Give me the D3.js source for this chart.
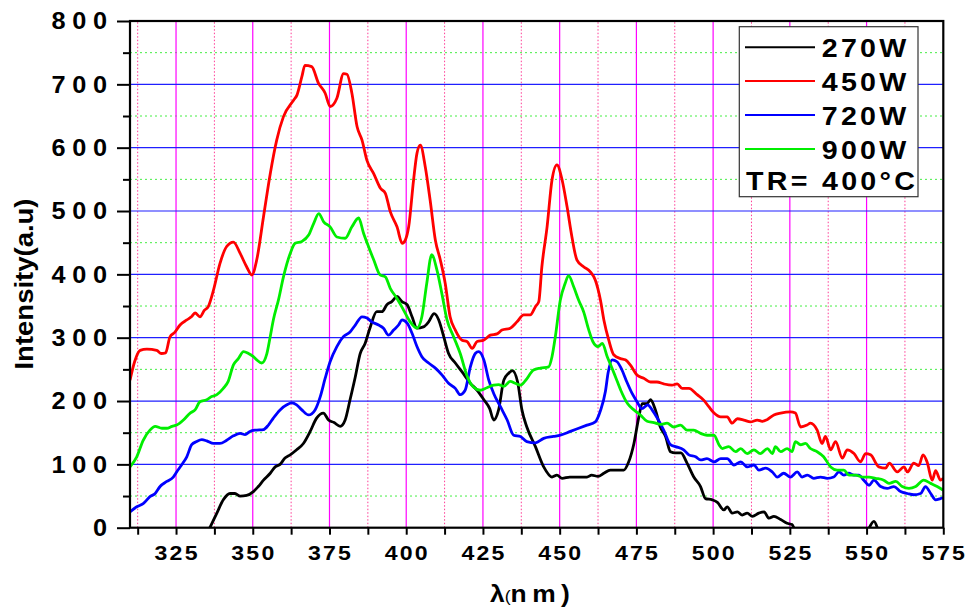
<!DOCTYPE html>
<html>
<head>
<meta charset="utf-8">
<script src="https://cdn.jsdelivr.net/npm/d3@7"></script>
<style>
  html, body { margin: 0; padding: 0; background: #fff; }
  svg { display: block; }
  text { font-family: "Liberation Sans", Arial, sans-serif; font-weight: bold; fill: #000; }
</style>
</head>
<body>
<svg id="chart" width="967" height="611"></svg>
<script>
// Emission spectra, intensity (a.u.) versus wavelength (nm)
const s270 = [[336,0],[338.3,23],[340.4,44],[342.6,54],[344.2,54],[345.9,50],[348,51],[350.2,57],[351.8,65],[353.5,75],[355.7,86],[357.3,96],[358.9,100],[360.5,110],[362.2,115],[364.3,123],[366.5,133],[368.7,152],[370.8,173],[373,181],[374.7,170],[376.5,166],[378.5,160],[380.1,170],[381.7,202],[383.4,238],[385,275],[386.6,291],[388.3,317],[390.4,341],[392.1,341],[393.7,352],[395.3,357],[397,365],[398.6,357],[400.3,352],[401.9,333],[403.5,315],[405.6,317],[407.3,325],[409.1,338],[410.6,328],[412.2,302],[413.8,275],[416,260],[418.2,246],[420.9,228],[423.1,217],[425.3,202],[427.2,188],[428.5,170],[430.1,186],[431.8,233],[433.4,244],[434.6,248],[436.3,230],[437.7,186],[439.3,159],[442.1,128],[444.8,96],[447.5,80],[449.1,83],[450.8,78],[453.3,80],[456.2,80],[458.9,80],[460.4,83],[462.5,81],[464.4,86],[466.5,91],[468.7,91],[470.9,91],[472.5,104],[474.2,133],[475.8,175],[476.9,196],[478.5,196],[479.6,202],[481.2,186],[482.8,159],[484.5,144],[486.1,120],[487.7,118],[489.5,118],[491.5,102],[493.7,80],[495.9,65],[497.5,46],[499.7,44],[501.4,40],[503.5,28],[504.6,33],[506.2,23],[507.9,25],[509.5,20],[511.1,23],[512.8,18],[514.9,23],[516.6,25],[518.2,15],[519.8,18],[522,13],[524.1,7],[525.7,5],[526.3,0],[540,null],[550.9,0],[552.4,10],[553.5,0]];
const s450 = [[310,233],[311.5,262],[313.3,280],[315.5,282],[318.7,280],[320.2,275],[321.6,276],[323,301],[324.5,308],[326.3,320],[328.5,328],[330,333],[331.2,339],[332.8,333],[334.2,343],[335.5,349],[337.2,375],[339.3,417],[341.5,444],[343.7,451],[345.9,433],[348,412],[349.7,399],[351.3,423],[353.5,491],[355.7,559],[357.8,612],[360,649],[363.3,675],[364.4,683],[366,712],[367,730],[369.2,728],[371.4,702],[373.6,686],[375.2,665],[377.4,678],[379.6,717],[380.7,716],[382.3,686],[384,633],[385.6,612],[387.2,580],[389.4,559],[391.6,536],[393.2,528],[394.8,499],[397,475],[398.7,449],[399.7,454],[400.8,475],[402.4,549],[403.5,591],[404.6,604],[406.2,570],[407.8,517],[409.5,454],[411.1,423],[412.7,386],[414.3,333],[416,312],[418.2,296],[419.8,294],[421.5,283],[423.1,294],[425.2,296],[427.4,304],[429.6,306],[431.2,312],[433.9,315],[436.1,325],[438.3,336],[440.4,336],[442.1,349],[443.2,357],[444.2,412],[445.9,475],[447.5,549],[449.1,573],[450.8,549],[452.4,507],[454,459],[455.6,423],[457.8,412],[460,404],[461.6,391],[463.3,359],[464.4,328],[466,296],[467.6,273],[469.8,267],[471.4,265],[473,257],[475.2,241],[477.4,236],[479.6,230],[481.7,230],[483.9,227],[486.6,225],[488.3,227],[489.9,220],[492.1,220],[494.8,210],[497,201],[498.6,191],[500.3,181],[502.5,175],[504.6,175],[506.2,165],[507.9,172],[510,170],[512.2,167],[514.4,170],[516,168],[517.7,171],[519.8,178],[522,181],[525.2,183],[526.8,181],[528.5,159],[530.6,162],[531.7,165],[533.9,154],[535.5,133],[536.6,144],[538.3,123],[539.9,136],[542.1,110],[543.7,123],[545.9,117],[548,104],[549.7,117],[551.3,115],[554,96],[556.2,94],[557.4,102],[560,88],[562.2,96],[563.3,88],[565.4,102],[567,98],[568.4,115],[569.7,104],[571.4,75],[572.5,90],[574.1,75],[575,78]];
const s720 = [[310,25],[312.2,33],[314.3,38],[316.5,49],[318.2,54],[319.8,65],[322,73],[324.1,80],[325.2,88],[326.8,99],[328.5,112],[330.1,131],[331.7,136],[333.4,139],[335,137],[337.2,133],[339.3,133],[341.5,138],[343.7,145],[345.9,149],[347.5,147],[349.1,152],[350.8,154],[353.5,155],[355.1,162],[356.7,173],[358.9,186],[361.1,194],[362.7,197],[364.3,194],[366,186],[368.2,178],[370.3,186],[372,207],[373.6,236],[375.2,262],[377.4,286],[379.6,302],[381.7,309],[383.4,320],[385.6,333],[387.2,331],[388.8,325],[391,320],[392.6,315],[394.2,304],[395.9,312],[397.5,320],[398.6,328],[400.3,323],[401.9,307],[403.5,286],[405.1,270],[407.3,260],[409.5,252],[411.7,241],[413.8,228],[416,220],[417.6,210],[419.2,217],[420.9,254],[422.5,275],[423.6,278],[425.3,265],[426.9,233],[428.5,212],[430.7,191],[432.9,170],[435,146],[437.2,144],[439.3,136],[442.1,134],[444.8,141],[448,144],[450.2,146],[453.5,152],[456.2,157],[458.9,162],[461.6,167],[463.3,185],[464.9,215],[465.8,245],[467.1,265],[468.7,262],[470.3,249],[471.9,230],[473.6,212],[475.2,199],[476.8,188],[478.7,194],[480.1,186],[481.7,174],[483.9,154],[486.1,131],[487.7,128],[490.4,123],[492.1,115],[494.3,112],[495.9,107],[498,109],[500.3,104],[502.5,109],[504.6,109],[506.8,99],[509,104],[511.1,96],[513.3,99],[514.9,91],[517.1,94],[519.3,88],[520.9,80],[523,86],[525.2,80],[527.4,88],[529,80],[530.7,83],[532.8,78],[535,80],[537.2,78],[539.3,80],[541,88],[542.6,83],[544.2,86],[545.9,83],[547.5,83],[549.1,75],[550.8,67],[552.4,75],[554.6,65],[556.7,62],[558.9,65],[561.1,57],[563.3,54],[565.4,52],[567.6,54],[569.2,65],[570.9,54],[572.5,44],[574.1,46],[575,47]];
const s900 = [[310,96],[312.2,112],[314.3,138],[316.5,154],[318.2,160],[320.4,157],[322,157],[323.7,160],[325.2,162],[327.4,170],[329.6,181],[331.2,186],[332.8,199],[335,202],[336.6,207],[338.3,210],[340.4,220],[342,231],[343.7,257],[345.3,267],[347,278],[348.6,275],[350.2,270],[351.3,265],[352.9,260],[354.6,275],[355.7,302],[356.7,328],[358.4,360],[360,396],[362.2,433],[363.8,449],[366,452],[368.2,462],[369.9,481],[371.5,496],[373.1,483],[375.2,475],[377.4,459],[380.1,457],[382.3,475],[384.5,489],[386.1,465],[387.7,444],[389.4,423],[391.5,399],[393.2,396],[394.8,378],[397,362],[399.1,344],[401.3,325],[403.5,315],[405.1,333],[406.7,386],[408.3,431],[410,407],[411.6,370],[413.3,328],[415.4,302],[417.6,275],[419.8,240],[421.9,222],[424.1,217],[426.3,221],[428.5,225],[430.1,226],[431.8,223],[433.9,231],[435.5,228],[437.2,225],[438.8,232],[441.5,249],[443.7,252],[446.4,254],[447.5,270],[448.6,302],[450.2,359],[451.8,386],[452.9,398],[454.6,380],[456.2,359],[457.8,341],[459.5,312],[460.8,294],[462.5,286],[463.9,291],[465.5,270],[466.8,255],[468.2,238],[469.9,217],[472.1,196],[474.2,186],[476.3,178],[478.5,168],[480.7,166],[482.8,163],[485,165],[487.2,159],[489.4,162],[491.5,154],[493.7,154],[495.9,149],[498,146],[500.3,146],[501.9,131],[503,125],[505.1,128],[507.3,120],[509,125],[511.1,117],[513.3,123],[515.4,117],[517.7,125],[519.3,117],[520.3,128],[522,120],[524.1,125],[525.7,120],[526.8,136],[528.5,131],[530.1,133],[531.7,125],[533.9,120],[536,112],[538.3,96],[540.4,91],[542.6,91],[544.3,83],[546.4,83],[548.6,80],[550.8,80],[552.9,78],[555.6,75],[557.3,70],[559.5,73],[561.6,65],[563.8,62],[566,65],[568.6,75],[570.9,70],[573,65],[575,59]];

const seriesNames = ["270W", "450W", "720W", "900W"];
const seriesData = [s270, s450, s720, s900];
const seriesColors = ["#000000", "#ff0000", "#0000ff", "#00ee00"];
const xTicks = [325, 350, 375, 400, 425, 450, 475, 500, 525, 550, 575];
const yTicks = [0, 100, 200, 300, 400, 500, 600, 700, 800];
const legendNote = "TR= 400°C";

const svg = d3.select("#chart");
const x = d3.scaleLinear().domain([310, 575]).range([130, 943.3]);
const y = d3.scaleLinear().domain([0, 800]).range([527.7, 21]);
const [x0, x1] = x.range();
const [y0, y1] = y.range();

// text helper: bold, slightly widened, letter-spaced
function label(parent, px, py, str, opt) {
  const o = Object.assign({ size: 22, sx: 1.1, ls: 0, anchor: "start", rot: 0 }, opt);
  const g = parent.append("g")
    .attr("transform", `translate(${px},${py}) rotate(${o.rot}) scale(${o.sx},1)`);
  let dx = 0;
  if (o.anchor === "end") dx = o.ls;
  if (o.anchor === "middle") dx = o.ls / 2;
  return g.append("text")
    .attr("x", dx)
    .attr("text-anchor", o.anchor)
    .style("font-size", o.size + "px")
    .style("letter-spacing", o.ls + "px")
    .text(str);
}

// grid
const grid = svg.append("g");
const xMinor = d3.range(312.5, 575, 25);
const yMinor = d3.range(50, 800, 100);
grid.selectAll(".gxm").data(xMinor).join("line")
  .attr("x1", d => x(d)).attr("x2", d => x(d)).attr("y1", y0).attr("y2", y1)
  .attr("stroke", "#ff3c96").attr("stroke-width", 1).attr("stroke-dasharray", "1.5,2");
grid.selectAll(".gym").data(yMinor).join("line")
  .attr("x1", x0).attr("x2", x1).attr("y1", d => y(d)).attr("y2", d => y(d))
  .attr("stroke", "#44ee44").attr("stroke-width", 1).attr("stroke-dasharray", "2,3");
grid.selectAll(".gx").data(xTicks.filter(d => d < 575)).join("line")
  .attr("x1", d => x(d)).attr("x2", d => x(d)).attr("y1", y0).attr("y2", y1)
  .attr("stroke", "#ff00ff").attr("stroke-width", 1.2);
grid.selectAll(".gy").data(yTicks.filter(d => d > 0 && d < 800)).join("line")
  .attr("x1", x0).attr("x2", x1).attr("y1", d => y(d)).attr("y2", d => y(d))
  .attr("stroke", "#2020ff").attr("stroke-width", 1.2);

// curves
svg.append("clipPath").attr("id", "plotclip").append("rect")
  .attr("x", x0).attr("y", y1).attr("width", x1 - x0).attr("height", y0 - y1);
const line = d3.line()
  .defined(d => d[1] != null)
  .x(d => x(d[0])).y(d => y(d[1]))
  .curve(d3.curveMonotoneX);
const curves = svg.append("g").attr("clip-path", "url(#plotclip)");
seriesData.forEach((s, i) => {
  curves.append("path").datum(s)
    .attr("d", line)
    .attr("fill", "none")
    .attr("stroke", seriesColors[i])
    .attr("stroke-width", 2.8)
    .attr("stroke-linejoin", "round");
});

// axes
const yAxis = d3.axisLeft(y).tickValues(yTicks).tickSize(13).tickFormat("");
const yAxisMinor = d3.axisLeft(y).tickValues(yMinor).tickSize(7).tickFormat("");
const xAxis = d3.axisBottom(x).tickValues(xTicks).tickSize(7).tickFormat("");
const xAxisMinor = d3.axisBottom(x).tickValues(xMinor).tickSize(7).tickFormat("");
function styleAxis(g) {
  g.select(".domain").remove();
  g.selectAll(".tick line").attr("stroke", "#000").attr("stroke-width", 2);
}
svg.append("g").attr("transform", `translate(${x0},0)`).call(yAxis).call(styleAxis);
svg.append("g").attr("transform", `translate(${x0},0)`).call(yAxisMinor).call(styleAxis);
svg.append("g").attr("transform", `translate(0,${y0})`).call(xAxis).call(styleAxis);
svg.append("g").attr("transform", `translate(0,${y0})`).call(xAxisMinor).call(styleAxis);

// frame
svg.append("rect").attr("x", x0).attr("y", y1).attr("width", x1 - x0).attr("height", y0 - y1)
  .attr("fill", "none").attr("stroke", "#000").attr("stroke-width", 2.2);

// tick labels
const labels = svg.append("g");
yTicks.forEach(v => label(labels, 107, y(v) + 8.3, String(v), { size: 23, sx: 1.1, ls: 6, anchor: "end" }));
xTicks.forEach(v => label(labels, x(v), 560, String(v), { size: 21, sx: 1.1, ls: 2, anchor: "middle" }));

// axis titles
label(labels, 33, 284, "Intensity(a.u)", { size: 25, sx: 1.1, ls: 0, anchor: "middle", rot: -90 });
const xt = svg.append("g").attr("transform", "translate(490,602) scale(1.1,1)");
const xtt = xt.append("text").style("font-size", "24px");
xtt.append("tspan").text("λ");
xtt.append("tspan").style("font-size", "16px").style("font-weight", "normal").text("(");
xtt.append("tspan").style("letter-spacing", "5px").text("nm)");

// legend
const lg = svg.append("g");
lg.append("rect").attr("x", 739.3).attr("y", 26.7).attr("width", 178.7).attr("height", 170)
  .attr("fill", "#fff").attr("stroke", "#333").attr("stroke-width", 1.2);
const rowY = [47.3, 81, 115, 149];
seriesNames.forEach((n, i) => {
  lg.append("line").attr("x1", 745).attr("x2", 815).attr("y1", rowY[i]).attr("y2", rowY[i])
    .attr("stroke", seriesColors[i]).attr("stroke-width", 2);
  label(lg, 821.7, rowY[i] + 9.5, n, { size: 26, sx: 1.1, ls: 3 });
});
label(lg, 746, 180 + 9.5, legendNote, { size: 26, sx: 1.1, ls: 3 });
</script>
</body>
</html>
